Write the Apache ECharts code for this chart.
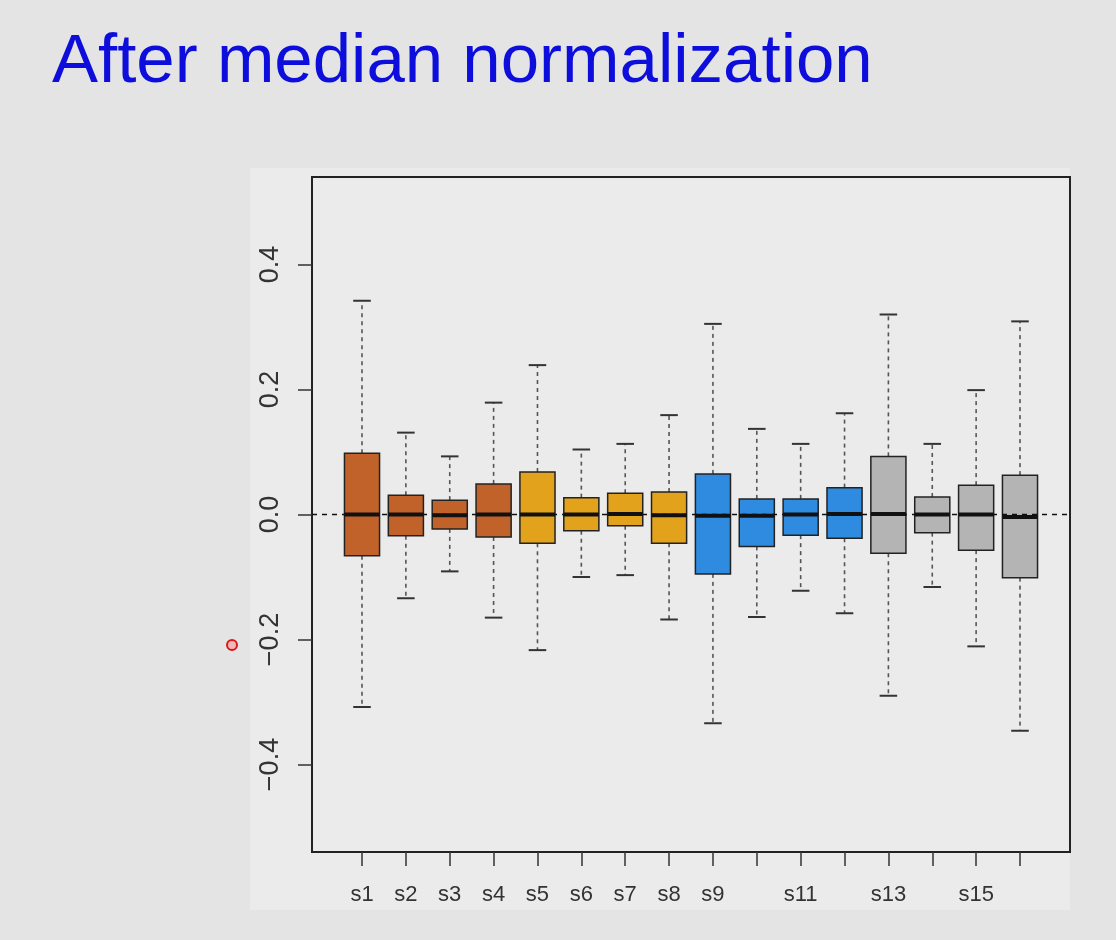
<!DOCTYPE html>
<html>
<head>
<meta charset="utf-8">
<script src="https://cdn.jsdelivr.net/npm/echarts@6/dist/echarts.min.js"></script>
<style>
html,body{margin:0;padding:0;background:#e4e4e4;}
#chart{width:1116px;height:940px;}
</style>
</head>
<body>
<div id="chart"></div>
<script>
// ---- data ----
const categories = ['s1','s2','s3','s4','s5','s6','s7','s8','s9','s10','s11','s12','s13','s14','s15','s16'];
const upperWhisker = [0.342, 0.131, 0.093, 0.179, 0.239, 0.104, 0.113, 0.159, 0.305, 0.137, 0.113, 0.162, 0.320, 0.113, 0.199, 0.309];
const q3Values     = [0.098, 0.031, 0.023, 0.049, 0.068, 0.027, 0.034, 0.036, 0.065, 0.025, 0.025, 0.043, 0.093, 0.028, 0.047, 0.063];
const medianValues = [0.000, 0.000, -0.001, 0.000, 0.000, 0.000, 0.001, -0.001, -0.002, -0.002, 0.000, 0.001, 0.001, 0.000, 0.000, -0.004];
const q1Values     = [-0.066, -0.034, -0.023, -0.036, -0.046, -0.026, -0.018, -0.046, -0.095, -0.051, -0.033, -0.038, -0.062, -0.029, -0.057, -0.101];
const lowerWhisker = [-0.308, -0.134, -0.091, -0.165, -0.217, -0.100, -0.097, -0.168, -0.334, -0.164, -0.122, -0.158, -0.290, -0.116, -0.211, -0.346];
const yTickValues = [-0.4, -0.2, 0, 0.2, 0.4];
const xLabelShown = ['s1','s2','s3','s4','s5','s6','s7','s8','s9','s11','s13','s15'];
const referenceLevel = 0;

// ---- styles ----
const boxColors = ['#c1622b','#c1622b','#c1622b','#c1622b',
                   '#e3a21c','#e3a21c','#e3a21c','#e3a21c',
                   '#2f8be0','#2f8be0','#2f8be0','#2f8be0',
                   '#b4b4b4','#b4b4b4','#b4b4b4','#b4b4b4'];

const boxData = categories.map((c, i) => [i + 1, lowerWhisker[i], q1Values[i], medianValues[i], q3Values[i], upperWhisker[i]]);
const xMin = -0.14, xMax = categories.length + 1.14;

const chart = echarts.init(document.getElementById('chart'), null, {renderer: 'canvas'});

function renderBox(params, api) {
  const x = api.value(0);
  const lo = api.value(1), q1 = api.value(2), med = api.value(3), q3 = api.value(4), hi = api.value(5);
  const halfBox = 0.4, halfCap = 0.2;
  const pHi = api.coord([x, hi]), pQ3 = api.coord([x, q3]), pQ1 = api.coord([x, q1]), pLo = api.coord([x, lo]);
  const bl = api.coord([x - halfBox, q3]), br = api.coord([x + halfBox, q1]);
  const cl = api.coord([x - halfCap, hi])[0], cr = api.coord([x + halfCap, hi])[0];
  const ml = api.coord([x - halfBox, med]), mr = api.coord([x + halfBox, med]);
  const whiskerStyle = {stroke: '#555', lineWidth: 1.6, lineDash: [4, 4]};
  const capStyle = {stroke: '#333', lineWidth: 2};
  return {
    type: 'group',
    children: [
      {type: 'line', shape: {x1: pQ3[0], y1: pQ3[1], x2: pHi[0], y2: pHi[1]}, style: whiskerStyle},
      {type: 'line', shape: {x1: pQ1[0], y1: pQ1[1], x2: pLo[0], y2: pLo[1]}, style: whiskerStyle},
      {type: 'line', shape: {x1: cl, y1: pHi[1], x2: cr, y2: pHi[1]}, style: capStyle},
      {type: 'line', shape: {x1: cl, y1: pLo[1], x2: cr, y2: pLo[1]}, style: capStyle},
      {type: 'rect', shape: {x: bl[0], y: bl[1], width: br[0] - bl[0], height: br[1] - bl[1]},
        style: {fill: boxColors[params.dataIndex], stroke: '#222', lineWidth: 1.5}},
      {type: 'line', shape: {x1: ml[0], y1: ml[1], x2: mr[0], y2: mr[1]}, style: {stroke: '#111', lineWidth: 4}}
    ]
  };
}

const option = {
  backgroundColor: '#e4e4e4',
  animation: false,
  title: {
    text: 'After median normalization',
    left: 47, top: 23,
    textStyle: {fontFamily: 'Liberation Sans, Arial, sans-serif', fontSize: 69, fontWeight: 'normal', color: '#0e0edc', lineHeight: 69}
  },
  graphic: [
    {type: 'rect', z: -10, shape: {x: 250, y: 168, width: 820, height: 742}, style: {fill: '#ebebeb'}},
    {type: 'circle', z: 100, shape: {cx: 232, cy: 645, r: 5}, style: {fill: '#f2b8b8', stroke: '#d81818', lineWidth: 2}}
  ],
  grid: {left: 312, right: 46, top: 177, bottom: 88, show: true, borderColor: '#222', borderWidth: 2, backgroundColor: 'transparent'},
  xAxis: {
    type: 'value', min: xMin, max: xMax,
    axisLine: {show: false, onZero: false},
    splitLine: {show: false},
    axisTick: {show: true, length: 14, lineStyle: {color: '#333', width: 1.5}, customValues: categories.map((c, i) => i + 1)},
    axisLabel: {
      customValues: xLabelShown.map(l => categories.indexOf(l) + 1),
      formatter: v => categories[Math.round(v) - 1],
      margin: 32, fontSize: 22, color: '#333', fontFamily: 'Liberation Sans, Arial, sans-serif'
    }
  },
  yAxis: {
    type: 'value', min: -0.54, max: 0.54,
    axisLine: {show: false, onZero: false},
    splitLine: {show: false},
    axisTick: {show: true, length: 14, lineStyle: {color: '#333', width: 1.5}, customValues: yTickValues},
    axisLabel: {
      customValues: yTickValues,
      rotate: 90,
      formatter: v => v.toFixed(1).replace('-', '\u2212'),
      margin: 28, fontSize: 27, color: '#333', fontFamily: 'Liberation Sans, Arial, sans-serif'
    }
  },
  series: [
    {
      type: 'custom', name: 'boxes', renderItem: renderBox, data: boxData,
      encode: {x: 0, y: [1, 2, 3, 4, 5]}, z: 2, clip: false
    },
    {
      type: 'line', name: 'zero', data: [[xMin, referenceLevel], [xMax, referenceLevel]],
      symbol: 'none', z: 3, silent: true,
      lineStyle: {color: '#111', width: 1.5, type: [5, 5]}
    }
  ]
};
chart.setOption(option);
</script>
</body>
</html>
